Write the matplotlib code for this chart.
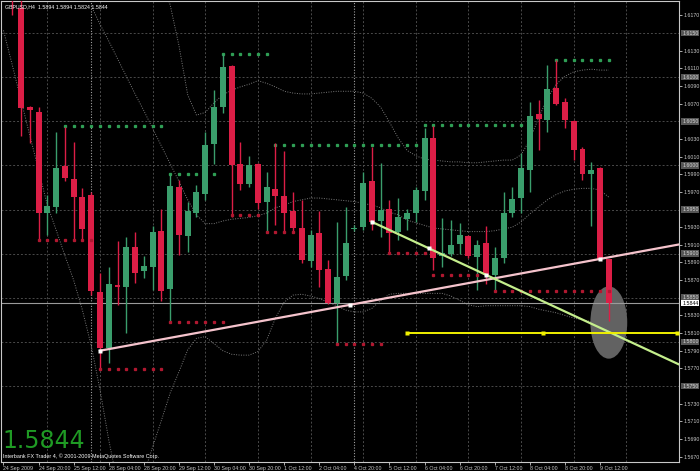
import matplotlib
matplotlib.use('Agg')
import matplotlib.pyplot as plt
import matplotlib.transforms as mtransforms
from matplotlib.patches import Ellipse
import numpy as np

# GBPUSD H4 candles, bar -1 is the partial one at the left edge
first_bar = -1
opens = [1.6200, 1.6178, 1.6066, 1.6061, 1.5946, 1.5953, 1.5999, 1.5985, 1.5964, 1.5967,
         1.5857, 1.5793, 1.5865, 1.5862, 1.5908, 1.5880, 1.5885, 1.5926, 1.5860, 1.5975,
         1.5920, 1.5946, 1.5968, 1.6024, 1.6066, 1.6113, 1.6002, 1.5979, 1.6002, 1.5958,
         1.5973, 1.5965, 1.5948, 1.5929, 1.5892, 1.5923, 1.5883, 1.5844, 1.5875, 1.5928,
         1.5930, 1.5982, 1.5937, 1.5951, 1.5924, 1.5939, 1.5946, 1.5971, 1.6031, 1.5897,
         1.5900, 1.5911, 1.5920, 1.5896, 1.5912, 1.5876, 1.5895, 1.5946, 1.5963, 1.5995,
         1.6058, 1.6052, 1.6088, 1.6072, 1.6050, 1.6019, 1.5990, 1.5997, 1.5894]
highs = [1.6210, 1.6188, 1.6067, 1.6066, 1.5966, 1.6038, 1.6044, 1.6027, 1.5974, 1.5970,
         1.5878, 1.5885, 1.5914, 1.5919, 1.5925, 1.5897, 1.5931, 1.5951, 1.5989, 1.5983,
         1.5958, 1.5978, 1.6038, 1.6085, 1.6126, 1.6114, 1.6027, 1.6011, 1.6003, 1.5993,
         1.6025, 1.6016, 1.5970, 1.5961, 1.5927, 1.5948, 1.5893, 1.5936, 1.5953, 1.5932,
         1.5992, 1.6021, 1.6003, 1.5961, 1.5963, 1.5951, 1.5976, 1.6042, 1.6045, 1.5940,
         1.5938, 1.5935, 1.5921, 1.5916, 1.5931, 1.5908, 1.5970, 1.5976, 1.6014, 1.6072,
         1.6074, 1.6114, 1.6119, 1.6076, 1.6051, 1.6021, 1.6004, 1.5998, 1.5894]
lows = [1.6170, 1.6033, 1.6025, 1.5915, 1.5921, 1.5946, 1.5982, 1.5915, 1.5915, 1.5853,
        1.5770, 1.5776, 1.5842, 1.5810, 1.5867, 1.5872, 1.5859, 1.5846, 1.5823, 1.5898,
        1.5902, 1.5942, 1.5961, 1.6002, 1.6059, 1.5942, 1.5972, 1.5976, 1.5951, 1.5923,
        1.5932, 1.5923, 1.5923, 1.5889, 1.5885, 1.5862, 1.5843, 1.5798, 1.5870, 1.5926,
        1.5927, 1.5927, 1.5919, 1.5900, 1.5915, 1.5927, 1.5936, 1.5961, 1.5882, 1.5885,
        1.5897, 1.5900, 1.5895, 1.5859, 1.5866, 1.5859, 1.5889, 1.5942, 1.5946, 1.5970,
        1.6017, 1.6038, 1.6068, 1.6042, 1.6006, 1.5983, 1.5931, 1.5893, 1.5824]
closes = [1.6186, 1.6065, 1.6063, 1.5946, 1.5954, 1.5997, 1.5986, 1.5964, 1.5928, 1.5858,
          1.5793, 1.5866, 1.5862, 1.5908, 1.5878, 1.5886, 1.5924, 1.5858, 1.5977, 1.5921,
          1.5948, 1.5970, 1.6023, 1.6066, 1.6112, 1.6001, 1.5979, 1.6000, 1.5957, 1.5975,
          1.5965, 1.5946, 1.5929, 1.5893, 1.5921, 1.5882, 1.5844, 1.5874, 1.5912, 1.5929,
          1.5980, 1.5936, 1.5949, 1.5923, 1.5941, 1.5946, 1.5972, 1.6031, 1.5895, 1.5901,
          1.5910, 1.5921, 1.5897, 1.5910, 1.5876, 1.5895, 1.5946, 1.5962, 1.5997, 1.6056,
          1.6053, 1.6087, 1.6070, 1.6051, 1.6017, 1.5990, 1.5995, 1.5894, 1.5844]

# dotted bands, first bar index of each
lower_start = -2
lower_band = [1.6153, 1.6114, 1.6074, 1.6034, 1.5995, 1.5955, 1.5927, 1.5898, 1.5870, 1.5836,
              1.5796, 1.5746, 1.5689, 1.5640, 1.5625, 1.5630, 1.5650, 1.5681, 1.5711, 1.5742,
              1.5766, 1.5791, 1.5804, 1.5806, 1.5798, 1.5790, 1.5786, 1.5785, 1.5785, 1.5789,
              1.5802, 1.5827, 1.5845, 1.5853, 1.5854, 1.5852, 1.5849, 1.5845, 1.5841, 1.5836,
              1.5834, 1.5834, 1.5838, 1.5847, 1.5854, 1.5855, 1.5855, 1.5855, 1.5855, 1.5855,
              1.5855, 1.5852, 1.5847, 1.5842, 1.5840, 1.5841, 1.5841, 1.5841, 1.5841, 1.5841,
              1.5840, 1.5837, 1.5835, 1.5833, 1.5830, 1.5827, 1.5825, 1.5823, 1.5819, 1.5813]
middle_start = 8
middle_band = [1.6181, 1.6160, 1.6141, 1.6121, 1.6101, 1.6081, 1.6062, 1.6042, 1.6022, 1.6002,
               1.5982, 1.5961, 1.5944, 1.5934, 1.5934, 1.5937, 1.5939, 1.5940, 1.5941, 1.5943,
               1.5946, 1.5952, 1.5955, 1.5959, 1.5961, 1.5963, 1.5963, 1.5962, 1.5961, 1.5960,
               1.5959, 1.5957, 1.5955, 1.5952, 1.5947, 1.5944, 1.5938, 1.5935, 1.5932, 1.5929,
               1.5928, 1.5927, 1.5926, 1.5925, 1.5925, 1.5925, 1.5926, 1.5928, 1.5930, 1.5936,
               1.5945, 1.5953, 1.5961, 1.5967, 1.5971, 1.5973, 1.5974, 1.5974, 1.5972, 1.5964]
upper_start = 16
upper_band = [1.6210, 1.6182, 1.6136, 1.6080, 1.6057, 1.6060, 1.6071, 1.6080, 1.6085, 1.6089,
              1.6092, 1.6096, 1.6093, 1.6089, 1.6084, 1.6082, 1.6081, 1.6081, 1.6082, 1.6083,
              1.6084, 1.6084, 1.6084, 1.6082, 1.6076, 1.6066, 1.6049, 1.6031, 1.6017, 1.6011,
              1.6007, 1.6006, 1.6005, 1.6004, 1.6004, 1.6003, 1.6003, 1.6004, 1.6005, 1.6006,
              1.6006, 1.6012, 1.6029, 1.6054, 1.6076, 1.6092, 1.6101, 1.6106, 1.6108, 1.6109,
              1.6108, 1.6108]

# fractal level dots: (first bar, last bar, price)
green_levels = [(5, 16, 1.6045), (17, 22, 1.5990), (23, 28, 1.6126), (29, 45, 1.6023),
                (46, 58, 1.6046), (61, 67, 1.6120)]
red_levels = [(2, 8, 1.5916), (9, 16, 1.5769), (17, 23, 1.5823), (24, 27, 1.5944),
              (28, 31, 1.5924), (36, 41, 1.5798), (42, 46, 1.5901), (47, 52, 1.5876),
              (54, 67, 1.5858)]

# drawn objects
pink_line = [(9, 1.5790), (66, 1.5894)]
green_line = [(40, 1.5936), (53, 1.5876)]
yellow_level = 1.5810
yellow_from = 44
bid = 1.5844

date_bars = [-2, 2, 6, 10, 14, 18, 22, 26, 30, 34, 38, 42, 46, 50, 54, 58, 62, 66]
date_labels = ['24 Sep 2009', '24 Sep 20:00', '25 Sep 12:00', '28 Sep 04:00', '28 Sep 20:00',
               '29 Sep 12:00', '30 Sep 04:00', '30 Sep 20:00', '1 Oct 12:00', '2 Oct 04:00',
               '4 Oct 20:00', '5 Oct 12:00', '6 Oct 04:00', '6 Oct 20:00', '7 Oct 12:00',
               '8 Oct 04:00', '8 Oct 20:00', '9 Oct 12:00']
price_ticks = [1.6170, 1.6130, 1.6110, 1.6090, 1.6070, 1.6030, 1.6010, 1.5990, 1.5970,
               1.5930, 1.5910, 1.5890, 1.5870, 1.5830, 1.5810, 1.5790, 1.5770, 1.5730,
               1.5710, 1.5690, 1.5670]
round_levels = [1.6150, 1.6100, 1.6050, 1.6000, 1.5950, 1.5900, 1.5850, 1.5800, 1.5750]
week_separators = [8, 38]
vgrid_bars = [3, 9, 15, 21, 27, 33, 39, 45, 51, 57, 63, 69]

BULL = '#3a9e6c'
BEAR = '#dc1e46'
FONT = 'Liberation Sans'
SMALL = 3.8
W, H = 700, 471

fig = plt.figure(figsize=(7, 4.71), dpi=100, facecolor='black')
ax = fig.add_axes([1 / W, 9 / H, 678 / W, 461 / H], facecolor='black')
x_min, x_max = -2.28, 75.0
ax.set_xlim(x_min, x_max)
ax.set_ylim(1.56639, 1.61863)

# grid
for lv in round_levels:
    ax.axhline(lv, color='#4a4a4a', lw=0.7, ls=(0, (2, 2)), zorder=0.5)
for b in vgrid_bars:
    ax.axvline(b, color='#4a4a4a', lw=0.7, ls=(0, (2, 2)), zorder=0.5)
for b in week_separators:
    ax.axvline(b, color='#a0a0a0', lw=0.8, ls=(0, (1, 1.5)), zorder=0.6)

# bands
for start, band in [(lower_start, lower_band), (middle_start, middle_band), (upper_start, upper_band)]:
    ax.plot(np.arange(start, start + len(band)), band, color='#7a7a7a', lw=0.7,
            ls=(0, (1, 1.5)), zorder=1)

ax.add_patch(Ellipse((67, 1.5822), 4.2, 0.0082, fc='#626262', ec='none', zorder=1.5))

ax.axhline(bid, color='#9a9a9a', lw=0.8, zorder=1.6)

# candles
idx = np.arange(first_bar, first_bar + len(opens))
o, h, l, c = map(np.array, (opens, highs, lows, closes))
colors = np.where(c >= o, BULL, BEAR)
ax.vlines(idx, l, h, colors=colors, lw=1.0, zorder=3)
body_low = np.minimum(o, c)
body_h = np.maximum(np.abs(c - o), 0.00008)
ax.bar(idx, body_h, bottom=body_low, width=0.68, color=colors, edgecolor='none', zorder=3.1)

# fractal dots
for b0, b1, lv in green_levels:
    xs = np.arange(b0, b1 + 1)
    ax.plot(xs, np.full(len(xs), lv), ls='none', marker='s', ms=1.4, color='#2f9e55', zorder=2)
for b0, b1, lv in red_levels:
    xs = np.arange(b0, b1 + 1)
    ax.plot(xs, np.full(len(xs), lv), ls='none', marker='s', ms=1.4, color='#b01830', zorder=3.5)

# trend lines, extended to the right edge
def ray(pts, color):
    (xa, ya), (xb, yb) = pts
    slope = (yb - ya) / (xb - xa)
    ax.plot([xa, x_max], [ya, ya + slope * (x_max - xa)], color=color, lw=1.6, zorder=4)
    mid = ((xa + xb) / 2, (ya + yb) / 2)
    for px, py in [(xa, ya), mid, (xb, yb)]:
        ax.plot(px, py, marker='s', ms=3, color='white', mec='none', zorder=4.5)

ray(pink_line, '#f5c3cc')
ray(green_line, '#c4ee8c')

ax.plot([yellow_from, x_max], [yellow_level, yellow_level], color='#f0f000', lw=1.4, zorder=4)
for px in [yellow_from, (yellow_from + x_max) / 2, x_max - 0.25]:
    ax.plot(px, yellow_level, marker='s', ms=3.2, color='#f0f000', mec='none', zorder=4.5, clip_on=False)

# axes look
for s in ax.spines.values():
    s.set_color('#c8c8c8')
    s.set_linewidth(0.8)
ax.yaxis.tick_right()
ax.set_yticks(price_ticks)
ax.set_yticklabels([f'{v:.4f}' for v in price_ticks], family=FONT)
ax.tick_params(axis='y', colors='#c8c8c8', labelsize=SMALL, length=2, width=0.6, pad=1)
ax.set_xticks(date_bars)
ax.set_xticklabels(date_labels, ha='left', family=FONT)
ax.tick_params(axis='x', colors='#c8c8c8', labelsize=SMALL, length=2, width=0.6, pad=1)

trans = mtransforms.blended_transform_factory(ax.transAxes, ax.transData)
for lv in round_levels:
    ax.text(1.0045, lv, f'{lv:.4f}', transform=trans, fontsize=SMALL, family=FONT, color='#d8d8d8',
            va='center', ha='left', bbox=dict(boxstyle='square,pad=0.15', fc='#555555', ec='none'), zorder=6)
ax.text(1.0045, bid, f'{bid:.4f}', transform=trans, fontsize=SMALL, family=FONT, color='black',
        va='center', ha='left', bbox=dict(boxstyle='square,pad=0.15', fc='white', ec='none'), zorder=7)

# labels on the chart
fig.text(5 / W, 1 - 7 / H, 'GBPUSD,H4  1.5894 1.5894 1.5824 1.5844', color='white',
         fontsize=SMALL, family=FONT, va='center', ha='left')
fig.text(2 / W, 1 - 441 / H, '1.5844', color='#1f9a24', fontsize=17, va='center', ha='left')
fig.text(3 / W, 1 - 456 / H, 'Interbank FX Trader 4, \u00a9 2001-2009 MetaQuotes Software Corp.',
         color='white', fontsize=3.9, family=FONT, va='center', ha='left')

fig.savefig('out.png', dpi=100, facecolor='black')
